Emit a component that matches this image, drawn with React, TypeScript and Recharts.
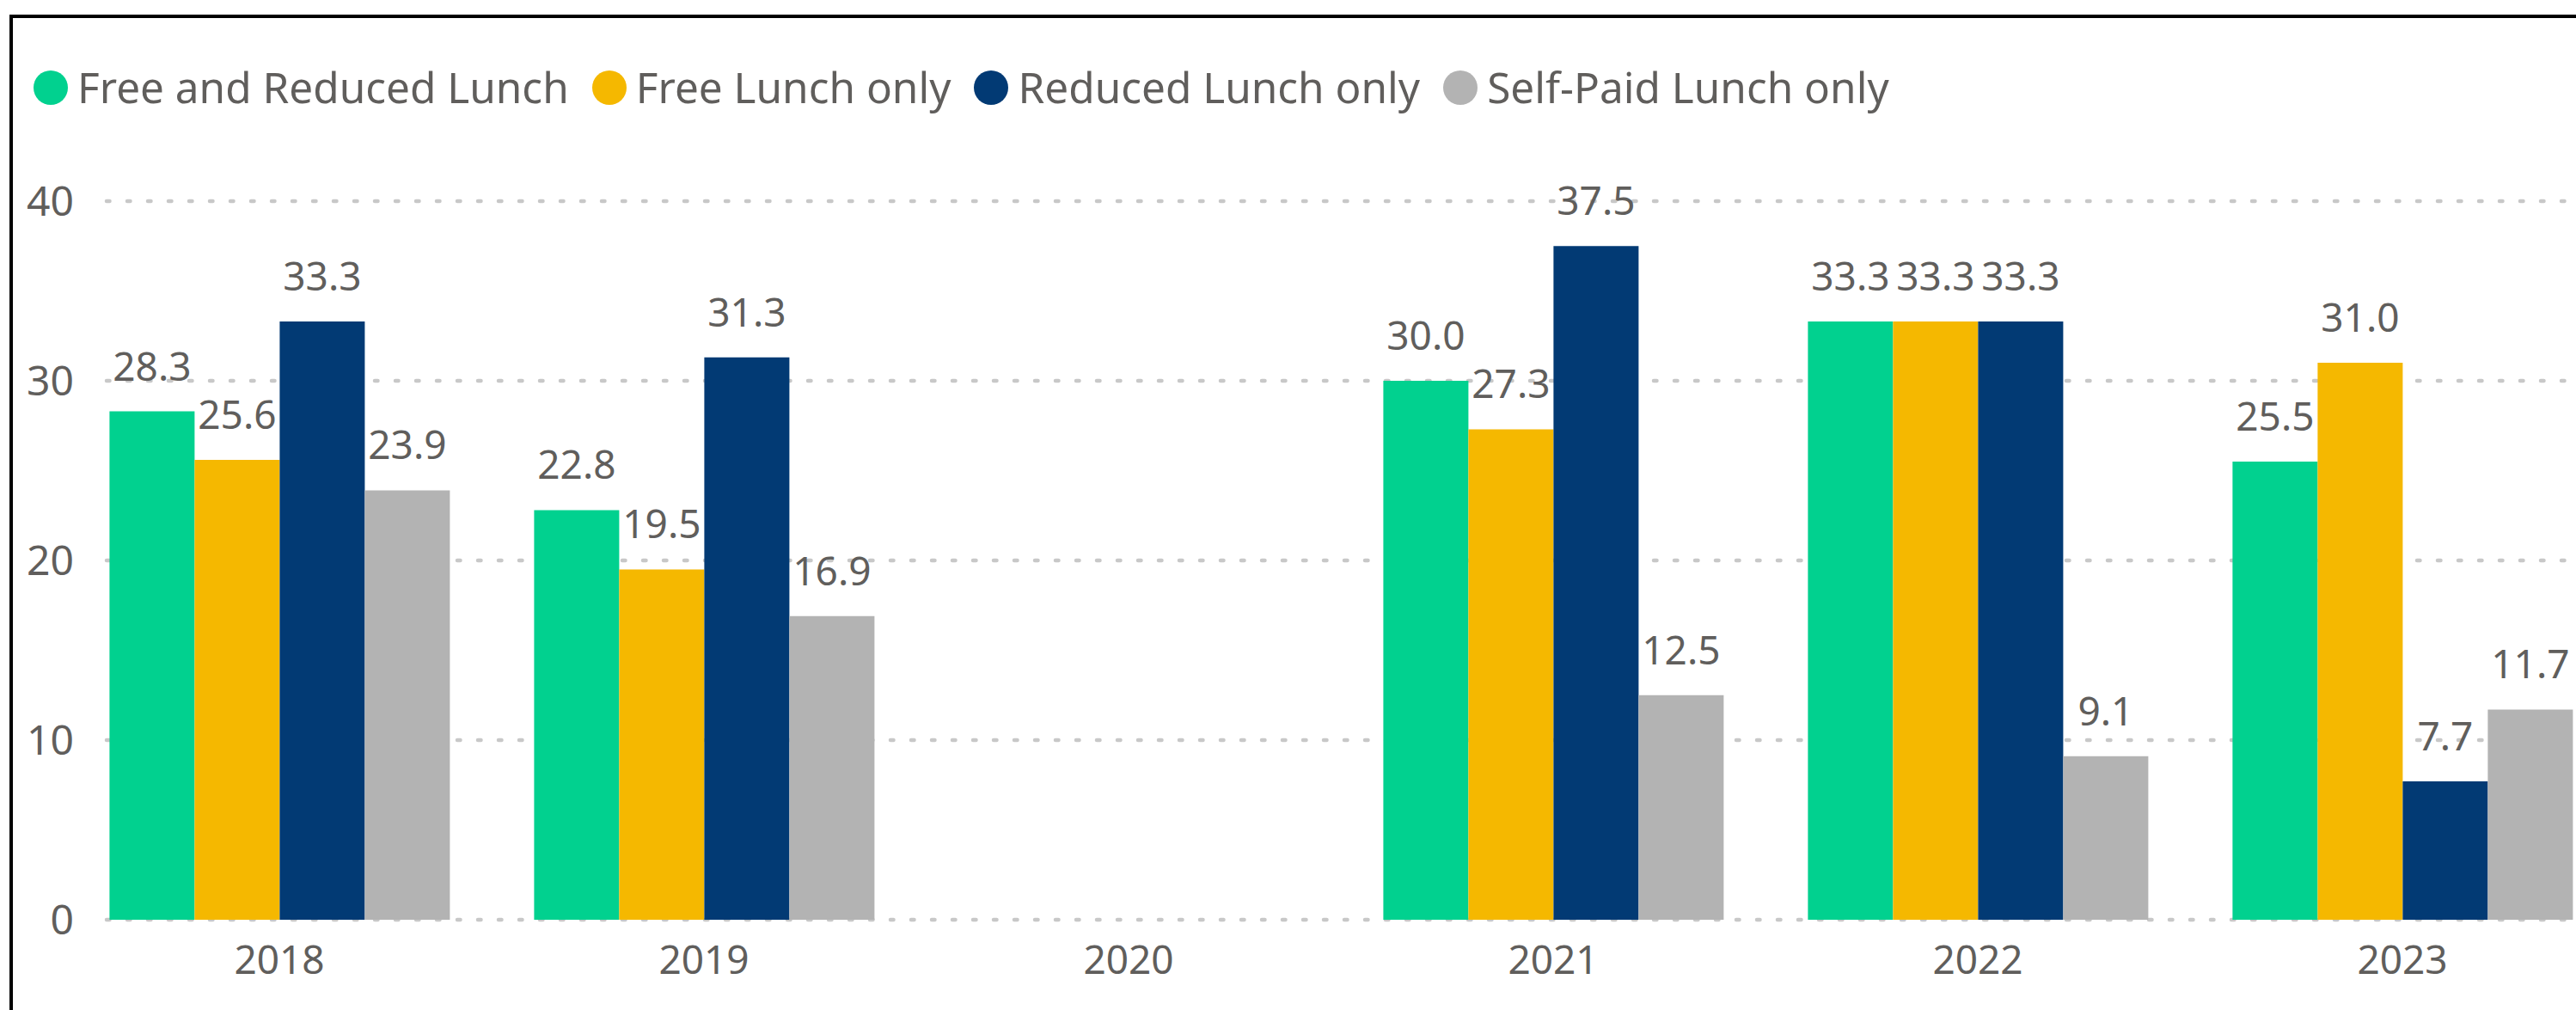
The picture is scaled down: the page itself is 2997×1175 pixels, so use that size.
import React from 'react';
import { Bar, BarChart, CartesianGrid, LabelList, XAxis, YAxis } from 'recharts';

// ─── Data ────────────────────────────────────────────────────────────

const YEARS = ['2018', '2019', '2020', '2021', '2022', '2023'];

const FREE_AND_REDUCED = [28.3, 22.8, null, 30.0, 33.3, 25.5];
const FREE_ONLY = [25.6, 19.5, null, 27.3, 33.3, 31.0];
const REDUCED_ONLY = [33.3, 31.3, null, 37.5, 33.3, 7.7];
const SELF_PAID = [23.9, 16.9, null, 12.5, 9.1, 11.7];

const Y_TICKS = [0, 10, 20, 30, 40];

const SERIES = [
  { key: 'freeReduced', name: 'Free and Reduced Lunch', color: '#01D18F', values: FREE_AND_REDUCED },
  { key: 'freeOnly', name: 'Free Lunch only', color: '#F5B800', values: FREE_ONLY },
  { key: 'reducedOnly', name: 'Reduced Lunch only', color: '#023A74', values: REDUCED_ONLY },
  { key: 'selfPaid', name: 'Self-Paid Lunch only', color: '#B3B3B3', values: SELF_PAID },
];

const data = YEARS.map((year, i) => {
  const row: Record<string, string | number | null> = { year };
  SERIES.forEach((s) => {
    row[s.key] = s.values[i];
  });
  return row;
});

// ─── Style ───────────────────────────────────────────────────────────

const FONT = "'Segoe UI', 'Noto Sans', sans-serif";
const TEXT = '#605E5C';
const GRID = '#C8C8C8';

// ─── Pieces ──────────────────────────────────────────────────────────

const YTick = ({ x, y, payload }: any) => (
  <text x={x + 8} y={y} dy={17} textAnchor="end" fontSize={48} fill={TEXT} fontFamily={FONT}>
    {payload.value}
  </text>
);

const XTick = ({ x, y, payload }: any) => (
  <text x={x} y={y} dy={63} textAnchor="middle" fontSize={46} fill={TEXT} fontFamily={FONT}>
    {payload.value}
  </text>
);

const ValueLabel = ({ x, y, width, value }: any) => {
  if (value == null) return null;
  return (
    <text
      x={x + width / 2}
      y={y - 36}
      textAnchor="middle"
      fontSize={46}
      fill={TEXT}
      fontFamily={FONT}
    >
      {Number(value).toFixed(1)}
    </text>
  );
};

// gridlines start a little right of the plot edge, like the original
const GridLine = (p: any) => (
  <line
    key={`h-${p.index}`}
    x1={p.x1 + 46}
    x2={p.x2}
    y1={p.y1}
    y2={p.y2}
    stroke={GRID}
    strokeWidth={4.5}
    strokeDasharray="3.5 20.5"
    strokeLinecap="round"
  />
);

const Legend = () => (
  <div
    style={{
      position: 'absolute',
      left: 39,
      top: 72,
      height: 60,
      display: 'flex',
      alignItems: 'center',
      fontFamily: FONT,
      fontSize: 49.5,
      color: TEXT,
      whiteSpace: 'nowrap',
    }}
  >
    {SERIES.map((s) => (
      <div key={s.key} style={{ display: 'flex', alignItems: 'center', marginRight: 27 }}>
        <span
          style={{
            width: 40,
            height: 40,
            borderRadius: '50%',
            background: s.color,
            marginRight: 11,
            display: 'inline-block',
          }}
        />
        <span style={{ lineHeight: 1.2 }}>{s.name}</span>
      </div>
    ))}
  </div>
);

// ─── Component ───────────────────────────────────────────────────────

export default function App() {
  return (
    <div
      style={{
        position: 'absolute',
        left: 0,
        top: 0,
        width: 2997,
        height: 1175,
        overflow: 'hidden',
        background: '#fff',
      }}
    >
      <div
        style={{
          position: 'absolute',
          left: 11,
          top: 17,
          width: 4000,
          height: 2000,
          borderLeft: '4px solid #000',
          borderTop: '4px solid #000',
        }}
      />
      <Legend />
      <div style={{ position: 'absolute', left: 0, top: 0 }}>
        <BarChart
          width={3070}
          height={1175}
          data={data}
          margin={{ top: 234, right: 28, left: 0, bottom: 25 }}
          barCategoryGap="10%"
          barGap={0}
        >
          <CartesianGrid vertical={false} horizontal={GridLine} />
          <XAxis
            dataKey="year"
            axisLine={false}
            tickLine={false}
            tickSize={0}
            tickMargin={0}
            height={80}
            tick={<XTick />}
            interval={0}
          />
          <YAxis
            domain={[0, 40]}
            ticks={Y_TICKS}
            axisLine={false}
            tickLine={false}
            tickSize={0}
            tickMargin={0}
            width={78}
            tick={<YTick />}
          />
          {SERIES.map((s) => (
            <Bar key={s.key} dataKey={s.key} name={s.name} fill={s.color} isAnimationActive={false}>
              <LabelList dataKey={s.key} content={<ValueLabel />} />
            </Bar>
          ))}
        </BarChart>
      </div>
    </div>
  );
}
